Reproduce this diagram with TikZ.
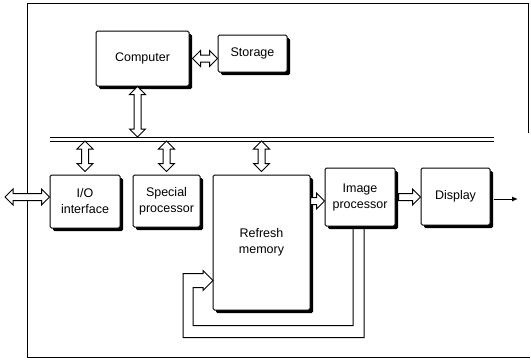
\documentclass[tikz,border=0pt]{standalone}
\usepackage{fontspec}
\setmainfont{Liberation Sans}
\usetikzlibrary{shadows,arrows.meta,calc}

% Block arrow sizes
\def\shaftW{3.5pt}
\def\headW{8pt}
\def\headL{8pt}

\tikzset{
  unit/.style={draw, fill=white, line width=1pt, rounded corners=1.5pt,
    align=center, inner sep=0pt, font=\fontsize{12.5}{16}\selectfont,
    drop shadow={shadow xshift=3pt, shadow yshift=-3pt, fill=black, opacity=1}},
  % hollow double arrow, left to right (y of start)
  hdbl/.style={draw, fill=white, line width=1pt, to path={
    let \p1=(\tikztostart), \p2=(\tikztotarget) in
    (\x1,\y1) -- (\x1+\headL,\y1+\headW) -- (\x1+\headL,\y1+\shaftW)
    -- (\x2-\headL,\y1+\shaftW) -- (\x2-\headL,\y1+\headW) -- (\x2,\y1)
    -- (\x2-\headL,\y1-\headW) -- (\x2-\headL,\y1-\shaftW)
    -- (\x1+\headL,\y1-\shaftW) -- (\x1+\headL,\y1-\headW) -- cycle}},
  % hollow double arrow, top to bottom (x of start)
  vdbl/.style={draw, fill=white, line width=1pt, to path={
    let \p1=(\tikztostart), \p2=(\tikztotarget) in
    (\x1,\y1) -- (\x1+\headW,\y1-\headL) -- (\x1+\shaftW,\y1-\headL)
    -- (\x1+\shaftW,\y2+\headL) -- (\x1+\headW,\y2+\headL) -- (\x1,\y2)
    -- (\x1-\headW,\y2+\headL) -- (\x1-\shaftW,\y2+\headL)
    -- (\x1-\shaftW,\y1-\headL) -- (\x1-\headW,\y1-\headL) -- cycle}},
  % hollow single arrow, left to right
  hsgl/.style={draw, fill=white, line width=1pt, to path={
    let \p1=(\tikztostart), \p2=(\tikztotarget) in
    (\x1,\y1+\shaftW) -- (\x2-\headL,\y1+\shaftW) -- (\x2-\headL,\y1+\headW)
    -- (\x2,\y1) -- (\x2-\headL,\y1-\headW) -- (\x2-\headL,\y1-\shaftW)
    -- (\x1,\y1-\shaftW) -- cycle}}
}

\begin{document}
\begin{tikzpicture}[x=1pt,y=-1pt]
  \useasboundingbox (0,0) rectangle (531,360);

  % Outer frame
  \draw[line width=1pt] (528,133) -- (528,3) -- (27,3) -- (27,357) -- (530,357);

  % Units
  \node[unit, minimum width=93pt, minimum height=55pt] (comp) at (142.5,58.5) {Computer};
  \node[unit, minimum width=69pt, minimum height=37pt] (stor) at (252.5,53.5) {Storage};
  \node[unit, minimum width=70pt, minimum height=53pt] (iof)  at (85,201.5)   {I/O\\interface};
  \node[unit, minimum width=67pt, minimum height=52pt] (spec) at (166.5,201)  {Special\\processor};
  \node[unit, minimum width=97pt, minimum height=135pt] (refr) at (261.5,242.5) {Refresh\\memory};
  \node[unit, minimum width=70pt, minimum height=58pt] (imgp) at (360,197)    {Image\\processor};
  \node[unit, minimum width=69pt, minimum height=57pt] (disp) at (455.5,196.5) {Display};

  % Bus
  \coordinate (busT) at (50,137);
  \coordinate (busB) at (50,141);
  \draw[line width=1pt] (busT) -- (busT -| 494,0);
  \draw[line width=1pt] (busB) -- (busB -| 494,0);

  % Computer links
  \draw[hdbl] ([xshift=3pt]comp.east) to (stor.west);
  \draw[vdbl] ([xshift=-5pt]comp.south) to (busT);

  % Bus to units
  \draw[vdbl] (iof.north |- busB) to ($(iof.north)+(0,-3)$);
  \draw[vdbl] (spec.north |- busB) to ($(spec.north)+(0,-3)$);
  \draw[vdbl] (refr.north |- busB) to ($(refr.north)+(0,-3)$);

  % Outside link
  \coordinate (ext) at (5,197);
  \draw[hdbl] (ext) to (iof.west);

  % Image path
  \coordinate (rmout) at ($(refr.east |- imgp.west)+(0,4)$);
  \draw[hsgl] (rmout) to (imgp.west);
  \draw[hsgl] ([xshift=3pt]imgp.east) to (disp.west);
  \coordinate (vid) at (518,199);
  \draw[line width=1pt, -{Latex[length=6pt,width=5pt]}] ([xshift=3pt]disp.east |- vid) -- (vid);

  % Feedback loop
  \draw[line width=1pt] ([xshift=-7pt]imgp.south) -- ++(0,99) -- ++(-160,0) -- ++(0,-38)
    -- ++(10,0) -- ++(0,3) -- ++(10,-10) -- ++(-10,-10) -- ++(0,3) -- ++(-20,0)
    -- ++(0,64) -- ++(181,0) -- ++(0,-111);
\end{tikzpicture}
\end{document}
